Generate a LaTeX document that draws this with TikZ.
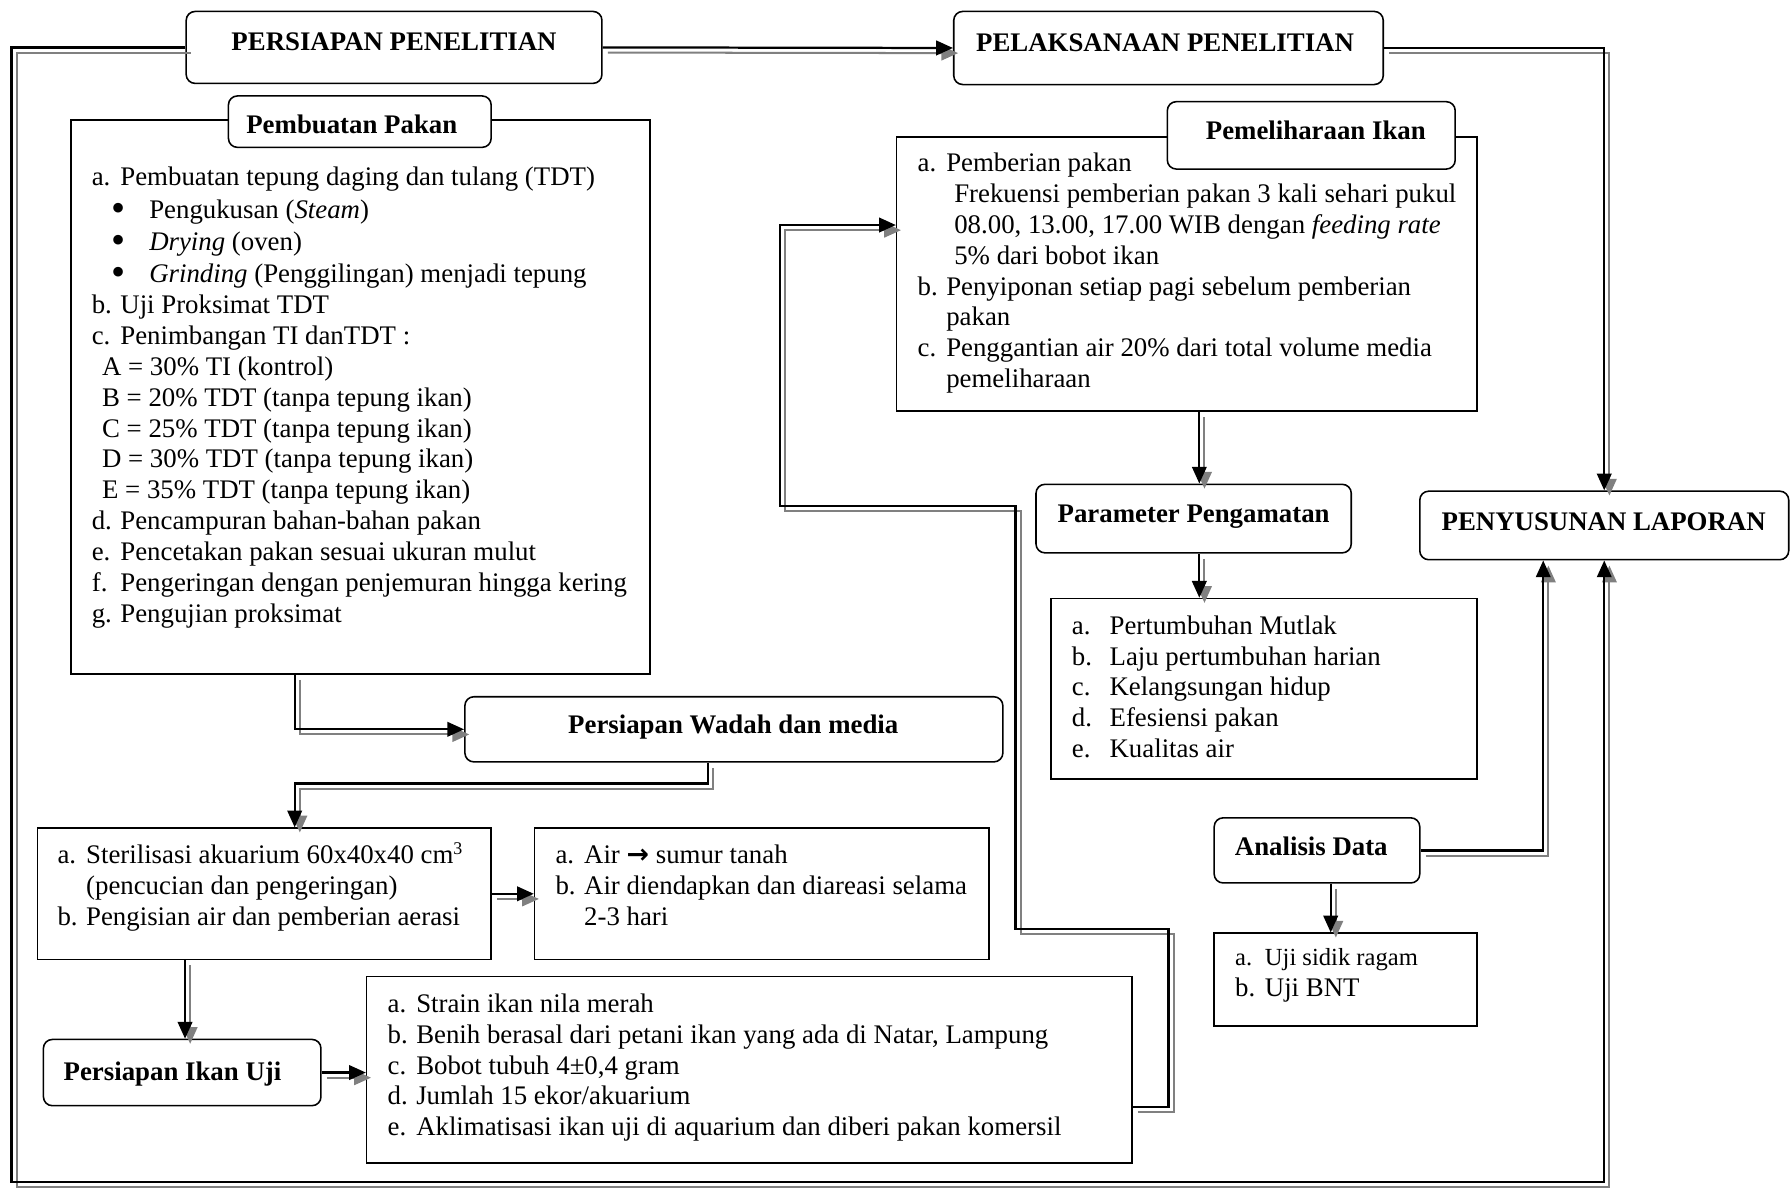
\documentclass[tikz,border=0pt]{standalone}
\usepackage{fontspec}
\setmainfont{Liberation Serif}
\newfontfamily\simbol{DejaVu Sans}
\usetikzlibrary{arrows.meta, fit}

\tikzset{
  kotak/.style={draw, line width=0.7pt, inner sep=0pt, fill=white},
  tahap/.style={kotak, rounded corners=4pt},
  judul/.style={font=\fontsize{12}{14}\selectfont\bfseries, inner sep=0pt, text height=8pt, text depth=0pt},
  isi/.style={anchor=north west, inner sep=0pt, align=left, font=\fontsize{12}{13.8}\selectfont},
  alur/.style={line width=1pt, -{Triangle[length=7.5pt,width=6.5pt]},
    preaction={draw=black!50, line width=0.9pt, transform canvas={shift={(2.3pt,-2.3pt)}}}}
}
\newcommand{\lbl}[2][12.8pt]{\makebox[#1][l]{#2}}
\newcommand{\ind}[1][12.8pt]{\hspace*{#1}}
\newcommand{\titik}{\ind[8.6pt]\lbl[17.1pt]{\smash{\raisebox{-0.25ex}{\scalebox{1.5}{\textbullet}}}}}

\begin{document}
\begin{tikzpicture}[x=0.511pt, y=-0.511pt]
\useasboundingbox (0,0) rectangle (1568,1040);

% kotak utama
\node[tahap, fit={(163,10) (527,73)}] (persiapan) {};
\node[tahap, fit={(835,10) (1211,74)}] (pelaksanaan) {};
\node[tahap, fit={(1243,430) (1566,490)}] (laporan) {};

\node[kotak, fit={(62,105) (569,590)}] (pakan) {};
\node[tahap, fit={(200,84) (430,129)}] (pakan-j) {};
\node[tahap, fit={(407,610) (878,667)}] (wadah) {};
\node[kotak, fit={(33,725) (430,840)}] (steril) {};
\node[kotak, fit={(468,725) (866,840)}] (air) {};
\node[tahap, fit={(38,910) (281,968)}] (ikanuji) {};
\node[kotak, fit={(321,855) (991,1018)}] (strain) {};

\node[kotak, fit={(785,120) (1293,360)}] (pelihara) {};
\node[tahap, fit={(1022,89) (1274,148)}] (pelihara-j) {};
\node[tahap, fit={(907,424) (1183,484)}] (parameter) {};
\node[kotak, fit={(920,524) (1293,682)}] (hasil) {};
\node[tahap, fit={(1063,716) (1243,773)}] (analisis) {};
\node[kotak, fit={(1063,817) (1293,898)}] (uji) {};

% judul
\node[judul] (persiapan-t) at (345,36) {PERSIAPAN PENELITIAN};
\node[judul] (pelaksanaan-t) at (1020,37) {PELAKSANAAN PENELITIAN};
\node[judul] (laporan-t) at (1404,457) {PENYUSUNAN LAPORAN};
\node[judul] (pakan-t) at (308,109) {Pembuatan Pakan};
\node[judul] (pelihara-t) at (1152,114) {Pemeliharaan Ikan};
\node[judul] (wadah-t) at (642,634) {Persiapan Wadah dan media};
\node[judul] (parameter-t) at (1045,450) {Parameter Pengamatan};
\node[judul] (analisis-t) at (1148,741) {Analisis Data};
\node[judul] (ikanuji-t) at (151,938) {Persiapan Ikan Uji};

% isi
\node[isi] (pakan-isi) at (80,143) {\strut\lbl{a.}Pembuatan tepung daging dan tulang (TDT)\\[0.8pt]
\titik Pengukusan (\textit{Steam})\\[0.8pt]
\titik\textit{Drying} (oven)\\[0.6pt]
\titik\textit{Grinding} (Penggilingan) menjadi tepung\\
\lbl{b.}Uji Proksimat TDT\\
\lbl{c.}Penimbangan TI danTDT :\\
\ind[4.6pt]A = 30\% TI (kontrol)\\
\ind[4.6pt]B = 20\% TDT (tanpa tepung ikan)\\
\ind[4.6pt]C = 25\% TDT (tanpa tepung ikan)\\
\ind[4.6pt]D = 30\% TDT (tanpa tepung ikan)\\
\ind[4.6pt]E = 35\% TDT (tanpa tepung ikan)\\
\lbl{d.}Pencampuran bahan-bahan pakan\\
\lbl{e.}Pencetakan pakan sesuai ukuran mulut\\
\lbl{f.}Pengeringan dengan penjemuran hingga kering\\
\lbl{g.}Pengujian proksimat};

\node[isi] (steril-isi) at (50,737) {\strut\lbl{a.}Sterilisasi akuarium 60x40x40 cm\textsuperscript{3}\\
\ind(pencucian dan pengeringan)\\
\lbl{b.}Pengisian air dan pemberian aerasi};

\node[isi] (air-isi) at (486,737) {\strut\lbl{a.}Air {\simbol\bfseries →} sumur tanah\\
\lbl{b.}Air diendapkan dan diareasi selama\\
\ind 2-3 hari};

\node[isi] (strain-isi) at (339,867) {\strut\lbl{a.}Strain ikan nila merah\\
\lbl{b.}Benih berasal dari petani ikan yang ada di Natar, Lampung\\
\lbl{c.}Bobot tubuh 4±0,4 gram\\
\lbl{d.}Jumlah 15 ekor/akuarium\\
\lbl{e.}Aklimatisasi ikan uji di aquarium dan diberi pakan komersil};

\node[isi] (pelihara-isi) at (803,131) {\strut\lbl{a.}Pemberian pakan\\
\ind[16.4pt]Frekuensi pemberian pakan 3 kali sehari pukul\\
\ind[16.4pt]08.00, 13.00, 17.00 WIB dengan \textit{feeding rate}\\
\ind[16.4pt]5\% dari bobot ikan\\
\lbl{b.}Penyiponan setiap pagi sebelum pemberian\\
\ind pakan\\
\lbl{c.}Penggantian air 20\% dari total volume media\\
\ind pemeliharaan};

\node[isi] (hasil-isi) at (938,536) {\strut\lbl[16.9pt]{a.}Pertumbuhan Mutlak\\
\lbl[16.9pt]{b.}Laju pertumbuhan harian\\
\lbl[16.9pt]{c.}Kelangsungan hidup\\
\lbl[16.9pt]{d.}Efesiensi pakan\\
\lbl[16.9pt]{e.}Kualitas air};

\node[isi] (uji-isi) at (1081,826) {\strut{\fontsize{11}{13.8}\selectfont\lbl[13.3pt]{a.}Uji sidik ragam}\\
\lbl[13.3pt]{b.}Uji BNT};

% alur
\draw[alur] (persiapan.east) -- (pelaksanaan.west);
\draw[alur] (pelaksanaan.east) -| (laporan.north);
\draw[alur] (persiapan.west) -| (10,1035) -| (laporan.south);
\draw[alur] (pakan.south -| 258,0) |- (wadah.west);
\draw[alur] (wadah.south -| 620,0) -- (620,686) -| (steril.north -| 258,0);
\draw[alur] (steril.east) -- (air.west);
\draw[alur] (steril.south -| 162,0) -- (ikanuji.north -| 162,0);
\draw[alur] (ikanuji.east) -- (ikanuji.east -| strain.west);
\draw[alur] (strain.east |- 0,969) -| (1023,813) -| (889,443) -| (683,197) -- (pelihara.west |- 0,197);
\draw[alur] (pelihara.south -| 1050,0) -- (parameter.north -| 1050,0);
\draw[alur] (parameter.south -| 1050,0) -- (hasil.north -| 1050,0);
\draw[alur] (analisis.east) -| ([xshift=-27.3pt]laporan.south);
\draw[alur] (analisis.south -| 1165,0) -- (uji.north -| 1165,0);
\end{tikzpicture}
\end{document}
